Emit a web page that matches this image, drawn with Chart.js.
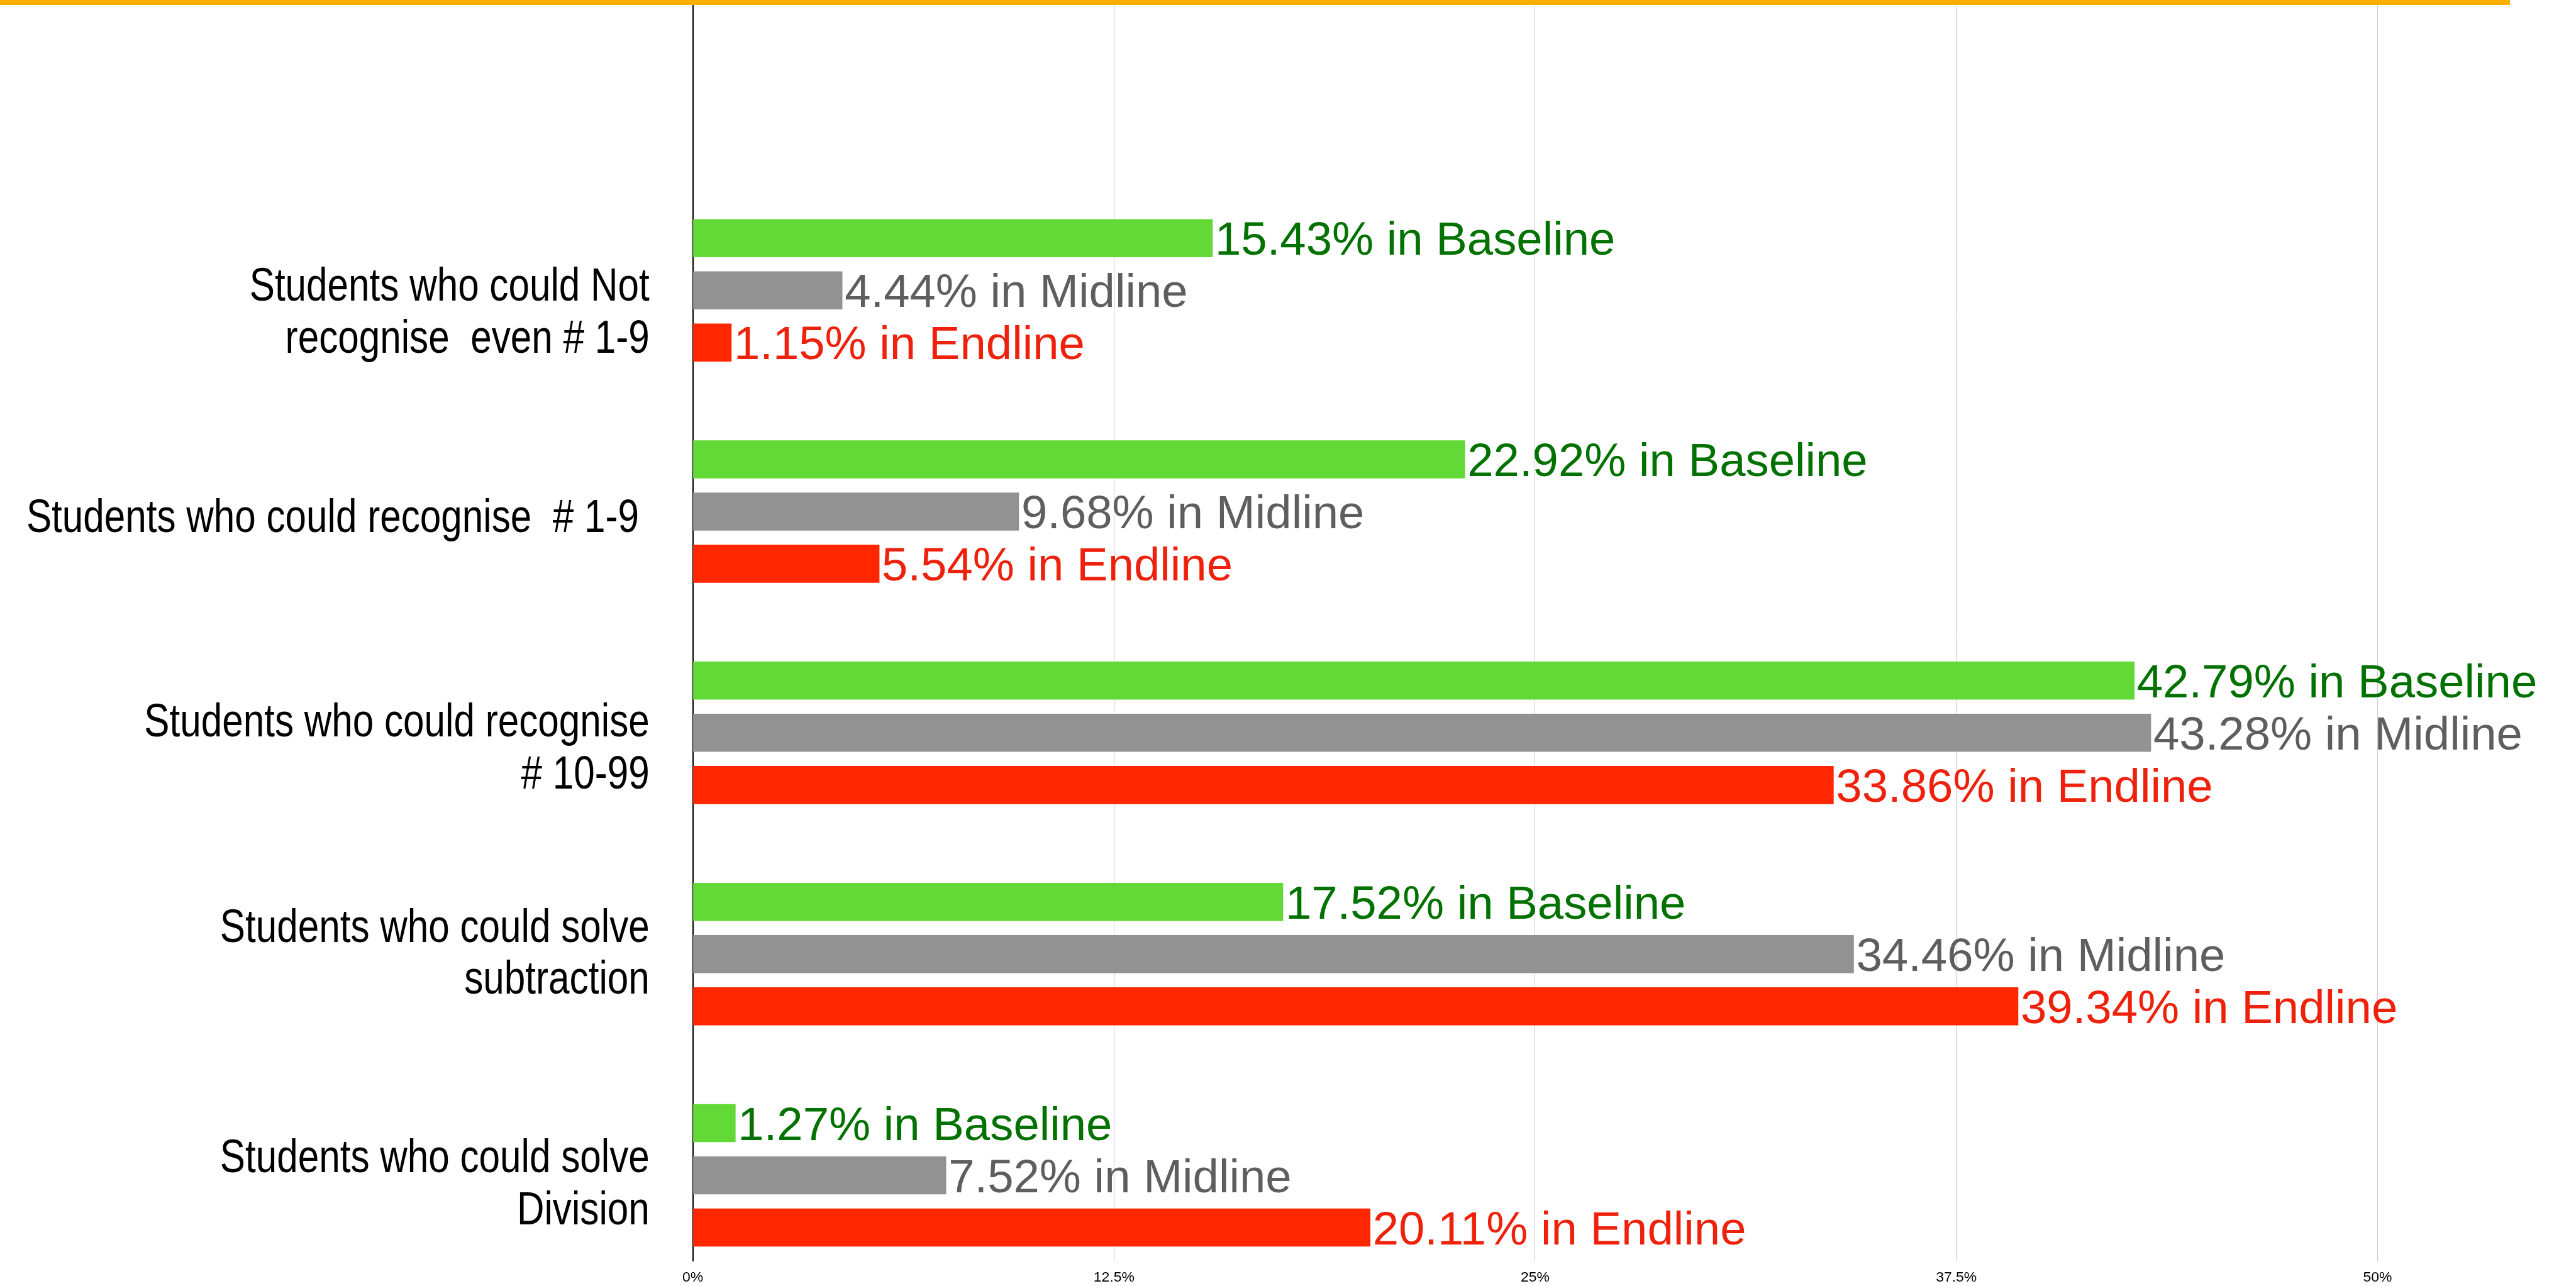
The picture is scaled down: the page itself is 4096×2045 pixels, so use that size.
<!DOCTYPE html>
<html>
<head>
<meta charset="utf-8">
<script src="https://cdn.jsdelivr.net/npm/chart.js@4.4.1/dist/chart.umd.min.js"></script>
<style>
html, body { margin: 0; padding: 0; background: #ffffff; overflow: hidden; }
#wrap { position: relative; width: 4096px; height: 2045px; }
#c { position: absolute; left: 0; top: 0; }
#topline { position: absolute; left: 0; top: 0; width: 3991px; height: 8.3px; background: #FFAF00; }
</style>
</head>
<body>
<div id="wrap">
  <canvas id="c" width="4096" height="2045"></canvas>
  <div id="topline"></div>
</div>
<script>
// ---- data ----
const categories = [
  ["Students who could Not", "recognise  even # 1-9"],
  ["Students who could recognise  # 1-9 "],
  ["Students who could recognise", "# 10-99"],
  ["Students who could solve", "subtraction"],
  ["Students who could solve", "Division"]
];
const seriesNames = ["Baseline", "Midline", "Endline"];
const baseline = [15.43, 22.92, 42.79, 17.52, 1.27];
const midline  = [4.44, 9.68, 43.28, 34.46, 7.52];
const endline  = [1.15, 5.54, 33.86, 39.34, 20.11];
const xTickValues = [0, 12.5, 25, 37.5, 50];
const xTickLabels = ["0%", "12.5%", "25%", "37.5%", "50%"];

// ---- layout / style ----
const S = 0.918;
const W = 4096, H = 2045;
const plotLeft = 1200 * S, plotRight = 4348 * S, plotTop = 9 * S, plotBottom = 2185 * S;
const xMax = 53.94;
const yMin = -1.289, yMax = 4.389;
const labelNudge = [0.089, 0.018, 0.060, -0.013, 0.029];
const REGULAR = "'Liberation Sans', Arial, Helvetica, sans-serif";
const NARROW_RATIO = 0.82;
const CAP_HALF = 0.358;   // half cap-height in em, to centre text on a y position
const barColors = ["#62D936", "#929292", "#FF2600"];
const textColors = ["#017100", "#5E5E5E", "#EE220C"];
const seriesValues = [baseline, midline, endline];

const barLabels = {
  id: 'barLabels',
  afterDatasetsDraw(chart) {
    const ctx = chart.ctx;
    const size = 81 * S;
    ctx.save();
    ctx.font = size + "px " + REGULAR;
    ctx.textBaseline = 'alphabetic';
    ctx.textAlign = 'left';
    chart.data.datasets.forEach((ds, di) => {
      const meta = chart.getDatasetMeta(di);
      ctx.fillStyle = textColors[di];
      meta.data.forEach((el, i) => {
        const v = seriesValues[di][i];
        ctx.fillText(v.toFixed(2) + "% in " + seriesNames[di], el.x + 4 * S, el.y + CAP_HALF * size);
      });
    });
    ctx.restore();
  }
};

// category labels in a condensed (narrow) rendering of the sans face
const categoryLabels = {
  id: 'categoryLabels',
  afterDraw(chart) {
    const sc = chart.scales.y;
    const ctx = chart.ctx;
    const size = 80 * S;
    ctx.save();
    ctx.font = size + "px " + REGULAR;
    ctx.fillStyle = '#000000';
    ctx.textAlign = 'right';
    ctx.textBaseline = 'alphabetic';
    const xRight = sc.right - 75 * S;
    const lh = 90 * S;
    categories.forEach((lines, i) => {
      const yc = sc.getPixelForValue(i + labelNudge[i]);
      lines.forEach((line, k) => {
        const y = yc + (k - (lines.length - 1) / 2) * lh + CAP_HALF * size;
        ctx.save();
        ctx.translate(xRight, y);
        ctx.scale(NARROW_RATIO, 1);
        ctx.fillText(line, 0, 0);
        ctx.restore();
      });
    });
    ctx.restore();
  }
};

new Chart(document.getElementById('c').getContext('2d'), {
  type: 'bar',
  data: {
    datasets: seriesNames.map((name, di) => ({
      label: name,
      data: seriesValues[di].map((v, i) => ({ x: v, y: i })),
      backgroundColor: barColors[di],
      borderWidth: 0,
      categoryPercentage: 0.708,
      barPercentage: 0.729
    }))
  },
  options: {
    indexAxis: 'y',
    responsive: false,
    animation: false,
    layout: { padding: { top: plotTop, right: W - plotRight, left: 0, bottom: 0 } },
    plugins: { legend: { display: false }, tooltip: { enabled: false } },
    scales: {
      x: {
        type: 'linear', position: 'bottom', min: 0, max: xMax,
        afterBuildTicks: s => { s.ticks = xTickValues.map(v => ({ value: v })); },
        afterFit: s => { s.height = H - plotBottom; s.paddingLeft = 0; s.paddingRight = 0; s.paddingTop = 0; s.paddingBottom = 0; },
        ticks: {
          callback: (v, i) => xTickLabels[i],
          color: '#000000', autoSkip: false, maxRotation: 0, padding: 12,
          font: { family: REGULAR, size: 25 * S }
        },
        grid: { color: '#c8c8c8', lineWidth: 1, drawTicks: false },
        border: { display: false }
      },
      y: {
        type: 'linear', position: 'left', reverse: true, offset: false,
        min: yMin, max: yMax,
        afterBuildTicks: s => { s.ticks = categories.map((_, i) => ({ value: i })); },
        afterFit: s => { s.width = plotLeft; s.paddingLeft = 0; s.paddingRight = 0; s.paddingTop = 0; s.paddingBottom = 0; },
        ticks: { display: false },
        grid: { display: false, drawTicks: false, offset: false },
        border: { display: true, color: '#000000', width: 2 }
      }
    }
  },
  plugins: [barLabels, categoryLabels]
});
</script>
</body>
</html>
